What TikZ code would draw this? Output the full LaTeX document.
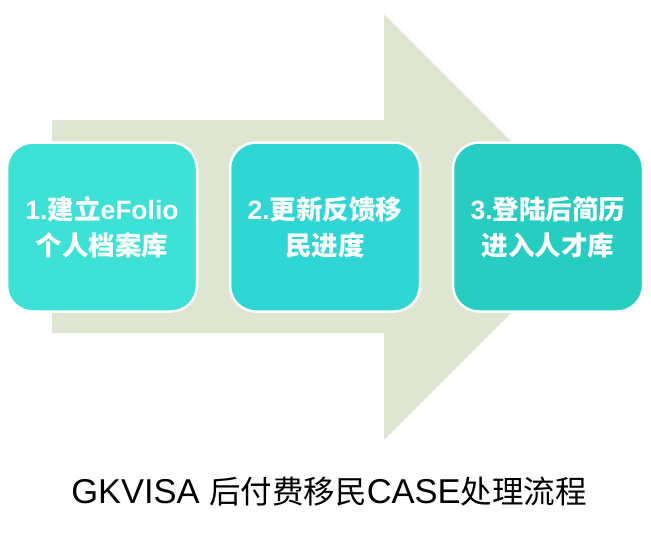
\documentclass[tikz,border=0pt]{standalone}
\usepackage{fontspec}
\setmainfont{Liberation Sans}
\newfontfamily\cjk{Noto Sans CJK SC}
\usetikzlibrary{positioning}

\definecolor{fond}{RGB}{222,230,210}
\definecolor{tealA}{RGB}{61,225,213}
\definecolor{tealB}{RGB}{48,214,211}
\definecolor{tealC}{RGB}{40,205,193}

\newcommand{\zh}[1]{{\cjk #1}}

\tikzset{
	etape/.style={draw=white, line width=2.5pt, rounded corners=26pt,
		minimum width=190pt, minimum height=169pt, inner sep=0pt,
		align=center, text=white, font=\fontsize{26.5}{36}\selectfont\bfseries},
}

\begin{document}
\begin{tikzpicture}[x=1pt, y=-1pt]

	\useasboundingbox (0,0) rectangle (651,542);

	\def\l{52}   % debut du corps de la fleche
	\def\b{384}  % base de la pointe
	\def\m{227}  % milieu
	
	% la grande fleche
	\fill[fond] (\l,120) -- (\b,120) -- (\b,14) -- (597,\m) -- (\b,440) -- (\b,333) -- (\l,333) -- cycle;
	
	% les trois etapes
	\node[etape, fill=tealA] (creer) at (102,\m) {1.\zh{建立}eFolio\\\zh{个人档案库}};
	\node[etape, fill=tealB, right=30.5pt of creer] (suivre) {2.\zh{更新反馈移}\\\zh{民进度}};
	\node[etape, fill=tealC, right=30.5pt of suivre] (entrer) {3.\zh{登陆后简历}\\\zh{进入人才库}};
	
	\node[font=\fontsize{34.5}{40}\selectfont] (titre) at (329,492)
		{GKVISA {\cjk\fontsize{31.5}{40}\selectfont 后付费移民}CASE{\cjk\fontsize{31.5}{40}\selectfont 处理流程}};

\end{tikzpicture}
\end{document}
